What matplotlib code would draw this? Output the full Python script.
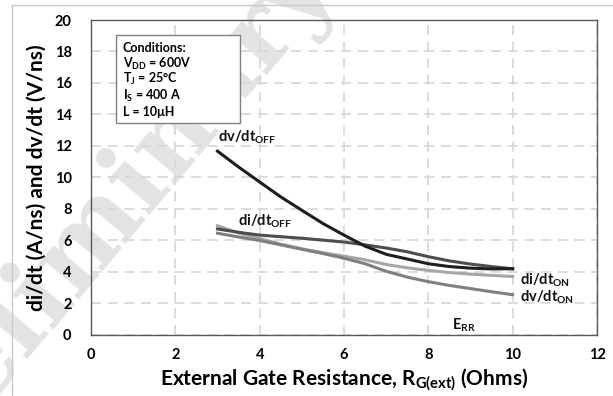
import matplotlib
matplotlib.use('Agg')
import matplotlib.pyplot as plt
from matplotlib.lines import Line2D
from matplotlib.patches import Rectangle

# gate resistance (Ohms)
rg = [3, 3.5, 4, 4.5, 5, 5.5, 6, 6.5, 7, 7.5, 8, 8.5, 9, 9.5, 10]

# curves
dvdt_off = [11.66, 10.65, 9.7, 8.75, 7.9, 7.06, 6.32, 5.62, 5.1, 4.8, 4.5, 4.32, 4.22, 4.17, 4.18]
didt_off = [6.71, 6.5, 6.32, 6.22, 6.12, 6.0, 5.88, 5.7, 5.5, 5.26, 4.95, 4.68, 4.48, 4.32, 4.18]
didt_on = [6.92, 6.45, 6.1, 5.75, 5.45, 5.2, 4.98, 4.75, 4.45, 4.24, 4.08, 3.94, 3.84, 3.76, 3.69]
dvdt_on = [6.44, 6.2, 5.98, 5.7, 5.42, 5.15, 4.85, 4.5, 4.02, 3.65, 3.36, 3.12, 2.92, 2.72, 2.53]

xticks = [0, 2, 4, 6, 8, 10, 12]
yticks = [0, 2, 4, 6, 8, 10, 12, 14, 16, 18, 20]

plt.rcParams['font.family'] = ['Lato', 'DejaVu Sans']
plt.rcParams['font.weight'] = 'bold'
plt.rcParams['mathtext.fontset'] = 'custom'
plt.rcParams['mathtext.rm'] = 'Lato:bold'
plt.rcParams['mathtext.bf'] = 'Lato:bold'
plt.rcParams['mathtext.it'] = 'Lato:bold'

fig = plt.figure(figsize=(6.13, 3.96), dpi=100)
ax = fig.add_axes([91 / 613, 61.5 / 396, 506 / 613, 314.5 / 396])

# watermark
fig.text(95 / 613, 1 - 230 / 396, 'Preliminary', fontsize=75, family='DejaVu Serif',
         fontweight='bold', color='#e3e3e3', rotation=50, ha='center', va='center',
         zorder=-1)

# outer border of the picture
fig.add_artist(Line2D([12 / 613, 12 / 613], [0, 1 - 5 / 396], color='#c8c8c8', lw=1))
fig.add_artist(Line2D([12 / 613, 1], [1 - 5 / 396, 1 - 5 / 396], color='#c8c8c8', lw=1))

ax.patch.set_alpha(0)

lw = 2.2
ax.plot(rg, didt_on, color='#a6a6a6', lw=lw)
ax.plot(rg, dvdt_on, color='#7f7f7f', lw=lw)
ax.plot(rg, didt_off, color='#4d4d4d', lw=lw)
ax.plot(rg, dvdt_off, color='#1e1e1e', lw=lw)

ax.set_xlim(0, 12)
ax.set_ylim(0, 20)
ax.set_xticks(xticks)
ax.set_yticks(yticks)
ax.tick_params(length=0, labelsize=10.5)
ax.tick_params(axis='x', pad=10)
ax.tick_params(axis='y', pad=14)
ax.grid(True, color='#d6d6d6', lw=1.2, ls=(0, (6, 4)))
ax.set_axisbelow(True)
for s in ax.spines.values():
    s.set_color('#595959')
    s.set_linewidth(1.0)

ax.set_xlabel('External Gate Resistance, R$_{\\mathrm{G(ext)}}$ (Ohms)', fontsize=15,
              fontweight='bold', labelpad=3)
ax.set_ylabel('di/dt (A/ns) and dv/dt (V/ns)', fontsize=15, fontweight='bold', labelpad=6)

# curve labels
lab = dict(fontsize=10.5, fontweight='bold', color='#111111')
ax.text(3.0, 12.56, 'dv/dt$_{\\mathrm{OFF}}$', va='center', ha='left', **lab)
ax.text(3.48, 7.22, 'di/dt$_{\\mathrm{OFF}}$', va='center', ha='left', **lab)
ax.text(10.18, 3.47, 'di/dt$_{\\mathrm{ON}}$', va='center', ha='left', **lab)
ax.text(10.18, 2.39, 'dv/dt$_{\\mathrm{ON}}$', va='center', ha='left', **lab)
ax.text(8.55, 0.6, 'E$_{\\mathrm{RR}}$', va='center', ha='left', **lab)

# conditions box
ax.add_patch(Rectangle((0.59, 13.42), 2.94, 5.63, fc='white', ec='#808080', lw=1, zorder=3))
cond = ['Conditions:', 'V$_{\\mathrm{DD}}$ = 600V', 'T$_{\\mathrm{J}}$ = 25\u00b0C',
        'I$_{\\mathrm{S}}$ = 400 A', 'L = 10\u03bcH']
cond_y = [18.25, 17.23, 16.22, 15.14, 14.18]
for t, y in zip(cond, cond_y):
    ax.text(0.75, y, t, va='center', ha='left', fontsize=9, fontweight='bold', zorder=4)

fig.savefig('out.png', dpi=100)
